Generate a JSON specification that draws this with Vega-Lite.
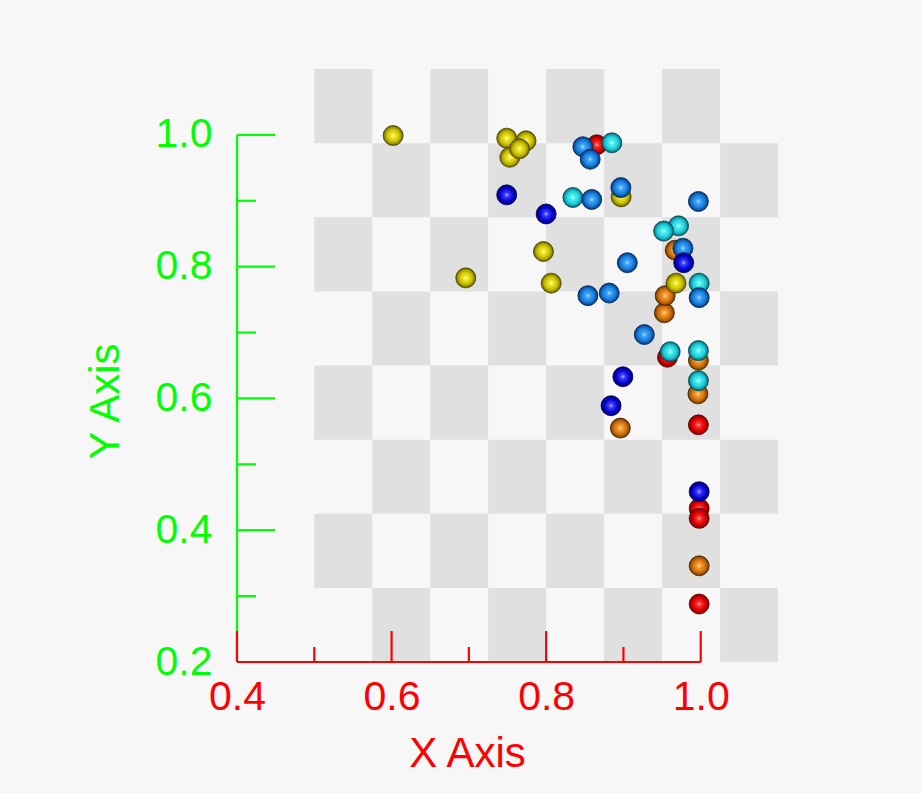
{
  "$schema": "https://vega.github.io/schema/vega-lite/v6.json",
  "autosize": "none",
  "width": 541,
  "height": 593,
  "padding": {"left": 237, "top": 69, "right": 144, "bottom": 131},
  "background": "#f7f7f7",
  "config": {
    "view": {"stroke": null},
    "font": "Liberation Sans",
    "axis": {"grid": false, "ticks": false, "domain": false, "labelFont": "Liberation Sans", "titleFont": "Liberation Sans", "titleFontWeight": "normal", "labelOverlap": false, "labelBound": false, "labelFlush": false}
  },
  "datasets": {
    "cells": [
      {"x0": 0.5, "x1": 0.575, "y0": 0.9875, "y1": 1.1},
      {"x0": 0.65, "x1": 0.725, "y0": 0.9875, "y1": 1.1},
      {"x0": 0.8, "x1": 0.875, "y0": 0.9875, "y1": 1.1},
      {"x0": 0.95, "x1": 1.025, "y0": 0.9875, "y1": 1.1},
      {"x0": 0.575, "x1": 0.65, "y0": 0.875, "y1": 0.9875},
      {"x0": 0.725, "x1": 0.8, "y0": 0.875, "y1": 0.9875},
      {"x0": 0.875, "x1": 0.95, "y0": 0.875, "y1": 0.9875},
      {"x0": 1.025, "x1": 1.1, "y0": 0.875, "y1": 0.9875},
      {"x0": 0.5, "x1": 0.575, "y0": 0.7625, "y1": 0.875},
      {"x0": 0.65, "x1": 0.725, "y0": 0.7625, "y1": 0.875},
      {"x0": 0.8, "x1": 0.875, "y0": 0.7625, "y1": 0.875},
      {"x0": 0.95, "x1": 1.025, "y0": 0.7625, "y1": 0.875},
      {"x0": 0.575, "x1": 0.65, "y0": 0.65, "y1": 0.7625},
      {"x0": 0.725, "x1": 0.8, "y0": 0.65, "y1": 0.7625},
      {"x0": 0.875, "x1": 0.95, "y0": 0.65, "y1": 0.7625},
      {"x0": 1.025, "x1": 1.1, "y0": 0.65, "y1": 0.7625},
      {"x0": 0.5, "x1": 0.575, "y0": 0.5375, "y1": 0.65},
      {"x0": 0.65, "x1": 0.725, "y0": 0.5375, "y1": 0.65},
      {"x0": 0.8, "x1": 0.875, "y0": 0.5375, "y1": 0.65},
      {"x0": 0.95, "x1": 1.025, "y0": 0.5375, "y1": 0.65},
      {"x0": 0.575, "x1": 0.65, "y0": 0.425, "y1": 0.5375},
      {"x0": 0.725, "x1": 0.8, "y0": 0.425, "y1": 0.5375},
      {"x0": 0.875, "x1": 0.95, "y0": 0.425, "y1": 0.5375},
      {"x0": 1.025, "x1": 1.1, "y0": 0.425, "y1": 0.5375},
      {"x0": 0.5, "x1": 0.575, "y0": 0.3125, "y1": 0.425},
      {"x0": 0.65, "x1": 0.725, "y0": 0.3125, "y1": 0.425},
      {"x0": 0.8, "x1": 0.875, "y0": 0.3125, "y1": 0.425},
      {"x0": 0.95, "x1": 1.025, "y0": 0.3125, "y1": 0.425},
      {"x0": 0.575, "x1": 0.65, "y0": 0.2, "y1": 0.3125},
      {"x0": 0.725, "x1": 0.8, "y0": 0.2, "y1": 0.3125},
      {"x0": 0.875, "x1": 0.95, "y0": 0.2, "y1": 0.3125},
      {"x0": 1.025, "x1": 1.1, "y0": 0.2, "y1": 0.3125}
    ],
    "ymajor": [{"v": 0.2}, {"v": 0.4}, {"v": 0.6}, {"v": 0.8}, {"v": 1.0}],
    "yminor": [{"v": 0.3}, {"v": 0.5}, {"v": 0.7}, {"v": 0.9}],
    "xmajor": [{"v": 0.4}, {"v": 0.6}, {"v": 0.8}, {"v": 1.0}],
    "xminor": [{"v": 0.5}, {"v": 0.7}, {"v": 0.9}],
    "pts": [
      {"x": 0.8656, "y": 0.985, "c": "r"},
      {"x": 0.957, "y": 0.6625, "c": "r"},
      {"x": 0.997, "y": 0.56, "c": "r"},
      {"x": 0.998, "y": 0.433, "c": "r"},
      {"x": 0.998, "y": 0.418, "c": "r"},
      {"x": 0.998, "y": 0.288, "c": "r"},
      {"x": 0.967, "y": 0.825, "c": "o"},
      {"x": 0.953, "y": 0.730, "c": "o"},
      {"x": 0.954, "y": 0.756, "c": "o"},
      {"x": 0.997, "y": 0.658, "c": "o"},
      {"x": 0.9964, "y": 0.607, "c": "o"},
      {"x": 0.896, "y": 0.555, "c": "o"},
      {"x": 0.998, "y": 0.346, "c": "o"},
      {"x": 0.602, "y": 0.999, "c": "y"},
      {"x": 0.749, "y": 0.995, "c": "y"},
      {"x": 0.774, "y": 0.991, "c": "y"},
      {"x": 0.753, "y": 0.966, "c": "y"},
      {"x": 0.7655, "y": 0.979, "c": "y"},
      {"x": 0.7965, "y": 0.823, "c": "y"},
      {"x": 0.696, "y": 0.783, "c": "y"},
      {"x": 0.8065, "y": 0.775, "c": "y"},
      {"x": 0.897, "y": 0.906, "c": "y"},
      {"x": 0.968, "y": 0.775, "c": "y"},
      {"x": 0.885, "y": 0.988, "c": "c"},
      {"x": 0.8346, "y": 0.905, "c": "c"},
      {"x": 0.9713, "y": 0.862, "c": "c"},
      {"x": 0.952, "y": 0.854, "c": "c"},
      {"x": 0.998, "y": 0.775, "c": "c"},
      {"x": 0.9605, "y": 0.671, "c": "c"},
      {"x": 0.997, "y": 0.6726, "c": "c"},
      {"x": 0.997, "y": 0.627, "c": "c"},
      {"x": 0.8475, "y": 0.982, "c": "l"},
      {"x": 0.857, "y": 0.963, "c": "l"},
      {"x": 0.859, "y": 0.902, "c": "l"},
      {"x": 0.8967, "y": 0.920, "c": "l"},
      {"x": 0.997, "y": 0.899, "c": "l"},
      {"x": 0.977, "y": 0.828, "c": "l"},
      {"x": 0.905, "y": 0.806, "c": "l"},
      {"x": 0.998, "y": 0.753, "c": "l"},
      {"x": 0.854, "y": 0.756, "c": "l"},
      {"x": 0.8816, "y": 0.760, "c": "l"},
      {"x": 0.927, "y": 0.697, "c": "l"},
      {"x": 0.749, "y": 0.909, "c": "d"},
      {"x": 0.80, "y": 0.880, "c": "d"},
      {"x": 0.978, "y": 0.806, "c": "d"},
      {"x": 0.8993, "y": 0.633, "c": "d"},
      {"x": 0.884, "y": 0.589, "c": "d"},
      {"x": 0.998, "y": 0.4585, "c": "d"}
    ]
  },
  "layer": [
    {
      "data": {"name": "cells"},
      "mark": {"type": "rect", "color": "#e0e0e0"},
      "encoding": {
        "x": {"field": "x0", "type": "quantitative", "scale": {"domain": [0.4, 1.1], "nice": false, "zero": false},
          "axis": {"values": [0.4, 0.6, 0.8, 1.0], "format": ".1f", "labelColor": "#ff0000", "labelFontSize": 41, "labelPadding": 15,
            "title": "X Axis", "titleColor": "#ff0000", "titleFontSize": 42, "titleX": 230, "titlePadding": 16}},
        "x2": {"field": "x1"},
        "y": {"field": "y0", "type": "quantitative", "scale": {"domain": [0.2, 1.1], "nice": false, "zero": false},
          "axis": {"values": [0.2, 0.4, 0.6, 0.8, 1.0], "format": ".1f", "labelColor": "#00ff00", "labelFontSize": 41, "labelPadding": 25,
            "title": "Y Axis", "titleColor": "#00ff00", "titleFontSize": 42, "titleY": 332, "titlePadding": 28}},
        "y2": {"field": "y1"}
      }
    },
    {
      "data": {"values": [{}]},
      "mark": {"type": "rule", "color": "#00ff00", "strokeWidth": 2.2},
      "encoding": {"x": {"datum": 0.4, "type": "quantitative"}, "y": {"datum": 0.2, "type": "quantitative"}, "y2": {"datum": 1.0}}
    },
    {
      "data": {"name": "ymajor"},
      "mark": {"type": "rule", "color": "#00ff00", "strokeWidth": 2.2},
      "encoding": {"y": {"field": "v", "type": "quantitative"}, "x": {"datum": 0.4, "type": "quantitative"}, "x2": {"datum": 0.4492}}
    },
    {
      "data": {"name": "yminor"},
      "mark": {"type": "rule", "color": "#00ff00", "strokeWidth": 2.2},
      "encoding": {"y": {"field": "v", "type": "quantitative"}, "x": {"datum": 0.4, "type": "quantitative"}, "x2": {"datum": 0.4246}}
    },
    {
      "data": {"values": [{}]},
      "mark": {"type": "rule", "color": "#ff0000", "strokeWidth": 2.2},
      "encoding": {"y": {"datum": 0.2, "type": "quantitative"}, "x": {"datum": 0.4, "type": "quantitative"}, "x2": {"datum": 1.0}}
    },
    {
      "data": {"name": "xmajor"},
      "mark": {"type": "rule", "color": "#ff0000", "strokeWidth": 2.2},
      "encoding": {"x": {"field": "v", "type": "quantitative"}, "y": {"datum": 0.2, "type": "quantitative"}, "y2": {"datum": 0.247}}
    },
    {
      "data": {"name": "xminor"},
      "mark": {"type": "rule", "color": "#ff0000", "strokeWidth": 2.2},
      "encoding": {"x": {"field": "v", "type": "quantitative"}, "y": {"datum": 0.2, "type": "quantitative"}, "y2": {"datum": 0.2228}}
    },
    {
      "data": {"name": "pts"},
      "transform": [{"filter": "datum.c == 'r'"}],
      "mark": {"type": "circle", "size": 400, "opacity": 1, "stroke": "#5a0000", "strokeWidth": 0.8,
        "fill": {"gradient": "radial", "x1": 0.5, "y1": 0.5, "r1": 0, "x2": 0.5, "y2": 0.5, "r2": 0.5,
          "stops": [{"offset": 0, "color": "#ffd0d0"}, {"offset": 0.2, "color": "#ff3030"}, {"offset": 0.62, "color": "#e00000"}, {"offset": 0.88, "color": "#a00000"}, {"offset": 1, "color": "#500000"}]}},
      "encoding": {"x": {"field": "x", "type": "quantitative"}, "y": {"field": "y", "type": "quantitative"}}
    },
    {
      "data": {"name": "pts"},
      "transform": [{"filter": "datum.c == 'o'"}],
      "mark": {"type": "circle", "size": 400, "opacity": 1, "stroke": "#4a2400", "strokeWidth": 0.8,
        "fill": {"gradient": "radial", "x1": 0.5, "y1": 0.5, "r1": 0, "x2": 0.5, "y2": 0.5, "r2": 0.5,
          "stops": [{"offset": 0, "color": "#fff0c0"}, {"offset": 0.2, "color": "#f8a030"}, {"offset": 0.62, "color": "#d47010"}, {"offset": 0.88, "color": "#905000"}, {"offset": 1, "color": "#4a2400"}]}},
      "encoding": {"x": {"field": "x", "type": "quantitative"}, "y": {"field": "y", "type": "quantitative"}}
    },
    {
      "data": {"name": "pts"},
      "transform": [{"filter": "datum.c == 'y'"}],
      "mark": {"type": "circle", "size": 400, "opacity": 1, "stroke": "#4a4400", "strokeWidth": 0.8,
        "fill": {"gradient": "radial", "x1": 0.5, "y1": 0.5, "r1": 0, "x2": 0.5, "y2": 0.5, "r2": 0.5,
          "stops": [{"offset": 0, "color": "#ffffd0"}, {"offset": 0.2, "color": "#f0e830"}, {"offset": 0.62, "color": "#ccc000"}, {"offset": 0.88, "color": "#8c8400"}, {"offset": 1, "color": "#4a4400"}]}},
      "encoding": {"x": {"field": "x", "type": "quantitative"}, "y": {"field": "y", "type": "quantitative"}}
    },
    {
      "data": {"name": "pts"},
      "transform": [{"filter": "datum.c == 'c'"}],
      "mark": {"type": "circle", "size": 400, "opacity": 1, "stroke": "#004850", "strokeWidth": 0.8,
        "fill": {"gradient": "radial", "x1": 0.5, "y1": 0.5, "r1": 0, "x2": 0.5, "y2": 0.5, "r2": 0.5,
          "stops": [{"offset": 0, "color": "#e0ffff"}, {"offset": 0.2, "color": "#50f0f0"}, {"offset": 0.62, "color": "#20d0dc"}, {"offset": 0.88, "color": "#108c9c"}, {"offset": 1, "color": "#004850"}]}},
      "encoding": {"x": {"field": "x", "type": "quantitative"}, "y": {"field": "y", "type": "quantitative"}}
    },
    {
      "data": {"name": "pts"},
      "transform": [{"filter": "datum.c == 'l'"}],
      "mark": {"type": "circle", "size": 400, "opacity": 1, "stroke": "#002458", "strokeWidth": 0.8,
        "fill": {"gradient": "radial", "x1": 0.5, "y1": 0.5, "r1": 0, "x2": 0.5, "y2": 0.5, "r2": 0.5,
          "stops": [{"offset": 0, "color": "#d0f0ff"}, {"offset": 0.2, "color": "#40a8f8"}, {"offset": 0.62, "color": "#1a80e0"}, {"offset": 0.88, "color": "#0c50a0"}, {"offset": 1, "color": "#002458"}]}},
      "encoding": {"x": {"field": "x", "type": "quantitative"}, "y": {"field": "y", "type": "quantitative"}}
    },
    {
      "data": {"name": "pts"},
      "transform": [{"filter": "datum.c == 'd'"}],
      "mark": {"type": "circle", "size": 400, "opacity": 1, "stroke": "#000048", "strokeWidth": 0.8,
        "fill": {"gradient": "radial", "x1": 0.5, "y1": 0.5, "r1": 0, "x2": 0.5, "y2": 0.5, "r2": 0.5,
          "stops": [{"offset": 0, "color": "#d0d0ff"}, {"offset": 0.2, "color": "#4040ff"}, {"offset": 0.62, "color": "#0808d8"}, {"offset": 0.88, "color": "#000098"}, {"offset": 1, "color": "#000048"}]}},
      "encoding": {"x": {"field": "x", "type": "quantitative"}, "y": {"field": "y", "type": "quantitative"}}
    }
  ]
}
